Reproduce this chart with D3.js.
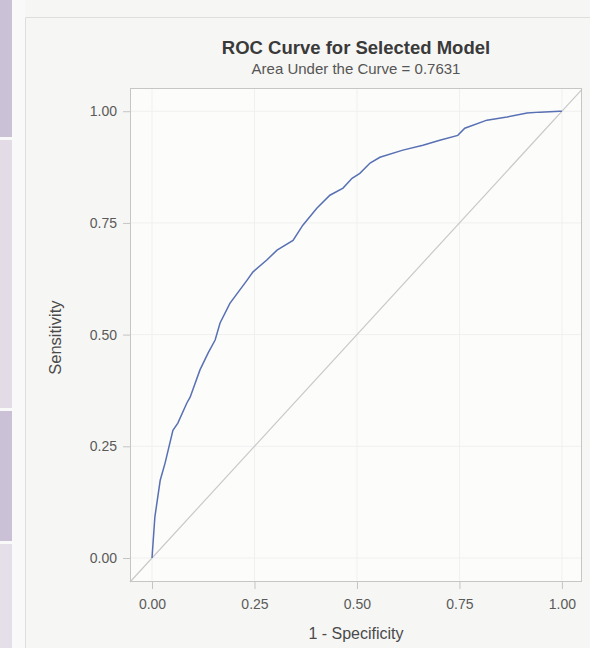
<!DOCTYPE html>
<meta charset="utf-8">
<script src="https://d3js.org/d3.v7.min.js"></script>
<style>
    body { margin: 0; background: #f6f6f4; }
    svg text { font-family: 'Liberation Sans', Arial, sans-serif; }
    .tick text { fill: #5a5a5a; font-size: 14px; }
</style>
<div id="chart"></div>
<script>
    // ROC points (1 - specificity, sensitivity)
    const fpr = [0, 0.003, 0.007, 0.020, 0.032, 0.051, 0.063, 0.085, 0.093, 0.117, 0.137, 0.154, 0.166,
        0.190, 0.232, 0.246, 0.280, 0.305, 0.344, 0.368, 0.402, 0.434, 0.466, 0.488, 0.507, 0.532,
        0.556, 0.612, 0.661, 0.702, 0.746, 0.763, 0.817, 0.866, 0.915, 0.946, 0.995, 1];
    const tpr = [0, 0.040, 0.092, 0.174, 0.213, 0.286, 0.302, 0.347, 0.360, 0.421, 0.459, 0.488, 0.526,
        0.570, 0.622, 0.640, 0.667, 0.689, 0.711, 0.745, 0.783, 0.812, 0.828, 0.850, 0.861, 0.884,
        0.897, 0.913, 0.924, 0.935, 0.946, 0.962, 0.980, 0.987, 0.996, 0.998, 1.0, 1];
    const xTicks = [0, 0.25, 0.5, 0.75, 1];
    const yTicks = [0, 0.25, 0.5, 0.75, 1];
    const title = "ROC Curve for Selected Model";
    const subtitle = "Area Under the Curve = 0.7631";

    const W = 590, H = 648;
    const svg = d3.select("#chart").append("svg")
        .attr("width", W).attr("height", H);

    // page decoration: purple side strip and panel edge
    svg.append("rect").attr("x", 0).attr("y", 0).attr("width", W).attr("height", H).attr("fill", "#f6f6f4");
    svg.append("rect").attr("x", 0).attr("y", 0).attr("width", 25).attr("height", H).attr("fill", "#f9f9f9");
    [[0, 137, "#cbc1d7"], [140, 408, "#e3dce7"], [411, 541, "#cbc1d6"], [544, 648, "#e5dfe9"]]
        .forEach(s => svg.append("rect").attr("x", 0).attr("y", s[0]).attr("width", 12)
            .attr("height", s[1] - s[0]).attr("fill", s[2]));
    svg.append("path").attr("d", "M25.5," + H + "V17.5H" + W)
        .attr("fill", "none").attr("stroke", "#dedede");

    // plot frame
    const frame = {left: 130, top: 88, right: 582, bottom: 582};
    const x = d3.scaleLinear().domain([-0.0537, 1.049]).range([frame.left, frame.right]);
    const y = d3.scaleLinear().domain([-0.0537, 1.052]).range([frame.bottom, frame.top]);

    svg.append("rect")
        .attr("x", frame.left).attr("y", frame.top)
        .attr("width", frame.right - frame.left).attr("height", frame.bottom - frame.top)
        .attr("fill", "#fcfcfb");

    // faint grid
    svg.append("g").selectAll("line").data(xTicks).join("line")
        .attr("x1", d => x(d)).attr("x2", d => x(d))
        .attr("y1", frame.top).attr("y2", frame.bottom)
        .attr("stroke", "#f0f0ef");
    svg.append("g").selectAll("line").data(yTicks).join("line")
        .attr("y1", d => y(d)).attr("y2", d => y(d))
        .attr("x1", frame.left).attr("x2", frame.right)
        .attr("stroke", "#f0f0ef");

    // axes
    const xAxis = svg.append("g")
        .attr("transform", "translate(0," + frame.bottom + ")")
        .call(d3.axisBottom(x).tickValues(xTicks).tickFormat(d3.format(".2f")).tickSize(7).tickPadding(10));
    const yAxis = svg.append("g")
        .attr("transform", "translate(" + frame.left + ",0)")
        .call(d3.axisLeft(y).tickValues(yTicks).tickFormat(d3.format(".2f")).tickSize(7).tickPadding(6));
    [xAxis, yAxis].forEach(a => {
        a.select(".domain").remove();
        a.selectAll(".tick line").attr("stroke", "#c4c4c4");
    });

    // reference diagonal across the whole frame
    svg.append("line")
        .attr("x1", x(-0.0537)).attr("y1", y(-0.0537))
        .attr("x2", x(1.049)).attr("y2", y(1.049))
        .attr("stroke", "#c9c9c9").attr("stroke-width", 1.2);

    // ROC curve
    const pts = fpr.map((v, i) => [v, tpr[i]]);
    svg.append("path")
        .datum(pts)
        .attr("fill", "none")
        .attr("stroke", "#5870b4")
        .attr("stroke-width", 1.5)
        .attr("d", d3.line().x(d => x(d[0])).y(d => y(d[1])));

    svg.append("rect")
        .attr("x", frame.left + 0.5).attr("y", frame.top + 0.5)
        .attr("width", frame.right - frame.left - 1).attr("height", frame.bottom - frame.top - 1)
        .attr("fill", "none").attr("stroke", "#c6c6c6");

    // titles
    const cx = (frame.left + frame.right) / 2;
    svg.append("text").attr("x", cx).attr("y", 54).attr("text-anchor", "middle")
        .attr("font-size", 18.5).attr("font-weight", "bold").attr("fill", "#3a3a3a").text(title);
    svg.append("text").attr("x", cx).attr("y", 74).attr("text-anchor", "middle")
        .attr("font-size", 15).attr("fill", "#555").text(subtitle);

    svg.append("text").attr("x", cx).attr("y", 639).attr("text-anchor", "middle")
        .attr("font-size", 16).attr("fill", "#4a4a4a").text("1 - Specificity");
    svg.append("text").attr("transform", "translate(61," + (y(0.5) + 3) + ") rotate(-90)")
        .attr("text-anchor", "middle")
        .attr("font-size", 16.5).attr("fill", "#4a4a4a").text("Sensitivity");
</script>
